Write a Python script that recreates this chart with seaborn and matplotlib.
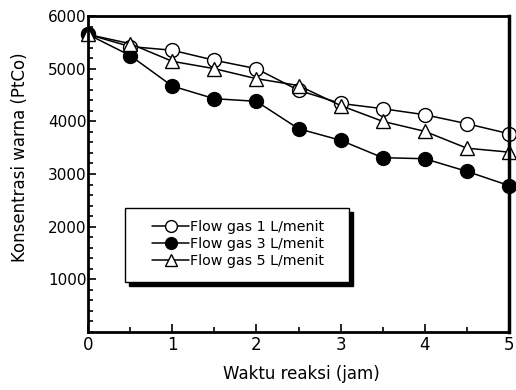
import matplotlib
matplotlib.use("Agg")
import matplotlib.pyplot as plt
from matplotlib.patches import Rectangle
from matplotlib.ticker import MultipleLocator
import seaborn as sns
import pandas as pd

# Data
waktu = [0, 0.5, 1, 1.5, 2, 2.5, 3, 3.5, 4, 4.5, 5]
flow1 = [5650, 5420, 5350, 5160, 5000, 4590, 4340, 4240, 4125, 3955, 3765]
flow3 = [5650, 5250, 4670, 4430, 4380, 3860, 3640, 3310, 3290, 3050, 2780]
flow5 = [5650, 5475, 5140, 5000, 4810, 4680, 4300, 4000, 3810, 3490, 3415]
labels = ["Flow gas 1 L/menit", "Flow gas 3 L/menit", "Flow gas 5 L/menit"]

sns.set_style("ticks")
plt.rcParams["font.family"] = ["DejaVu Sans"]
plt.rcParams["text.color"] = "black"
plt.rcParams["axes.labelcolor"] = "black"
plt.rcParams["xtick.color"] = "black"
plt.rcParams["ytick.color"] = "black"

W, H = 516, 390
fig = plt.figure(figsize=(W / 100, H / 100), dpi=100)
L, R, T, B = 88, 509, 16, 332
ax = fig.add_axes([L / W, 1 - B / H, (R - L) / W, (B - T) / H])

styles = [
    dict(marker="o", markerfacecolor="white"),
    dict(marker="o", markerfacecolor="black"),
    dict(marker="^", markerfacecolor="white"),
]
for ys, lab, st in zip([flow1, flow3, flow5], labels, styles):
    df = pd.DataFrame({"x": waktu, "y": ys})
    sns.lineplot(data=df, x="x", y="y", ax=ax, color="black", lw=1.1,
                 markersize=10, markeredgecolor="black", markeredgewidth=1.0,
                 label=lab, sort=False, clip_on=False, **st)

ax.set_xlim(0, 5)
ax.set_ylim(0, 6000)
ax.set_xticks([0, 1, 2, 3, 4, 5])
ax.set_yticks([1000, 2000, 3000, 4000, 5000, 6000])
ax.xaxis.set_minor_locator(MultipleLocator(0.5))
ax.yaxis.set_minor_locator(MultipleLocator(200))
ax.tick_params(which="both", direction="in", top=False, right=False,
               color="black", labelcolor="black", width=1.2)
ax.tick_params(which="major", length=6)
ax.tick_params(which="minor", length=3.5)
ax.tick_params(axis="x", which="major", labelsize=12, pad=3)
ax.tick_params(axis="y", which="major", labelsize=11, pad=1)
for s in ax.spines.values():
    s.set_visible(True)
    s.set_linewidth(2.0)
    s.set_color("black")
ax.spines["right"].set_linewidth(2.5)

ax.set_xlabel("Waktu reaksi (jam)", fontsize=12, color="black")
ax.set_ylabel("Konsentrasi warna (PtCo)", fontsize=12, color="black")
ax.xaxis.set_label_coords((301 - L) / (R - L), (B - 365) / (B - T))
ax.yaxis.set_label_coords((29 - L) / (R - L), (B - 157) / (B - T))

# Legend frame with black shadow
def fx(px):
    return px / W
def fy(py):
    return 1 - py / H
sh = Rectangle((fx(129), fy(286)), fx(349) - fx(125), fy(208) - fy(282),
               transform=fig.transFigure, facecolor="black", edgecolor="black",
               lw=1, zorder=6, clip_on=False)
box = Rectangle((fx(125), fy(282)), fx(349) - fx(125), fy(208) - fy(282),
                transform=fig.transFigure, facecolor="white", edgecolor="black",
                lw=1, zorder=7, clip_on=False)
ax.add_patch(sh)
ax.add_patch(box)

leg = ax.legend(loc="center left", bbox_to_anchor=(fx(145), fy(244)),
                bbox_transform=fig.transFigure, frameon=False, fontsize=10.3,
                borderpad=0, labelspacing=0.2, handlelength=2.6,
                handletextpad=0.05, markerscale=0.85)
for t in leg.get_texts():
    t.set_color("black")
leg.set_zorder(10)

fig.savefig("out.png", dpi=100)
